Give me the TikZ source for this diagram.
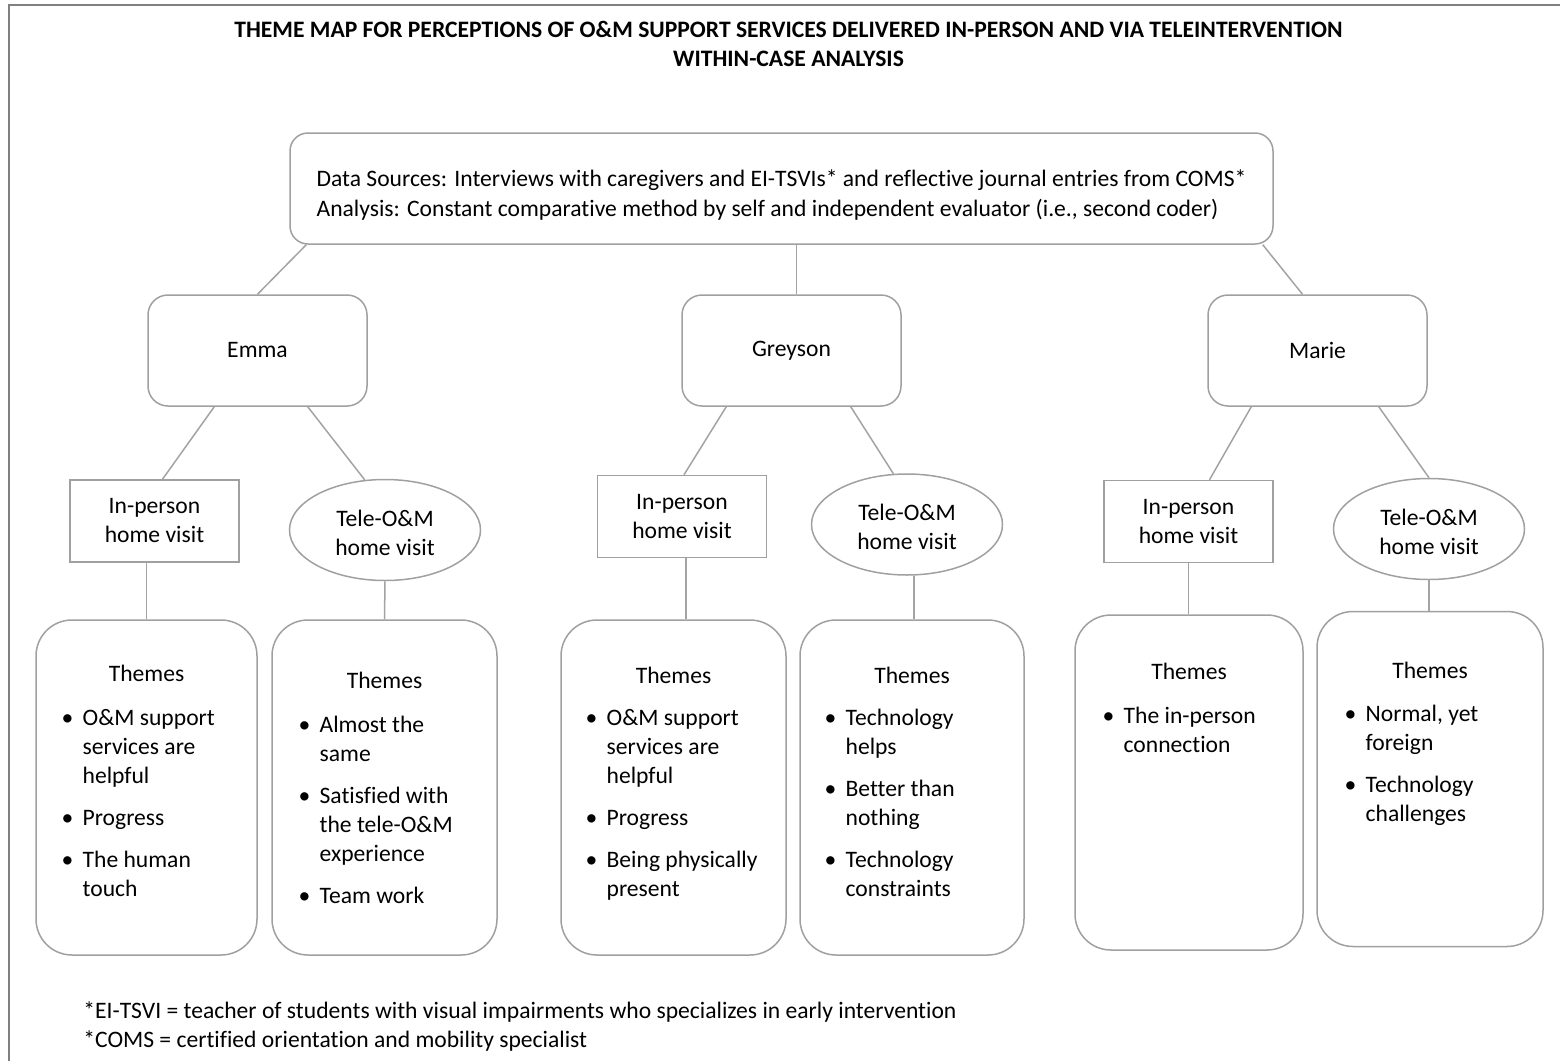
\documentclass[tikz,border=0pt]{standalone}
\usepackage{fontspec}
\setmainfont[Ligatures=NoCommon]{Carlito}
\usepackage{xcolor}
\usepackage{tikz}
\usetikzlibrary{positioning,shapes.geometric,calc}
\definecolor{edgec}{HTML}{A3A3A3}
\definecolor{boxc}{HTML}{A0A0A0}
\definecolor{framec}{HTML}{808080}
\newcommand{\bl}{\makebox[10.5pt][l]{\textbullet}}
\newcommand{\themelist}[1]{\begin{tabular}[t]{@{}l@{}l@{}}#1\end{tabular}}

\begin{document}
\begin{tikzpicture}[x=0.5pt,y=-0.5pt,
  txt/.style={font=\fontsize{11.8}{14.5}\selectfont,inner sep=0pt,align=center},
  ttl/.style={txt,font=\fontsize{11.8}{14.5}\selectfont\bfseries},
  srcbox/.style={txt,draw=boxc,line width=0.75pt,rounded corners=9pt,align=left,
    font=\fontsize{11.8}{15}\selectfont,minimum width=491.5pt,minimum height=55.5pt},
  kid/.style={txt,draw=boxc,line width=0.75pt,rounded corners=10pt,minimum width=109.5pt,minimum height=55.5pt},
  visit/.style={txt,draw=boxc,line width=0.75pt,minimum width=84.5pt,minimum height=41pt},
  tele/.style={txt,ellipse,draw=boxc,line width=0.75pt,minimum width=95.5pt,minimum height=50.5pt},
  themebox/.style={draw=boxc,line width=0.75pt,rounded corners=18pt,minimum height=167.5pt,inner sep=0pt},
  hd/.style={txt},
  lst/.style={txt,align=left},
  link/.style={draw=edgec,line width=0.75pt}]
\useasboundingbox (0,0) rectangle (1560,1061);
% frame
\draw[framec,line width=1.2pt] (9,1075) -- (9,5) -- (1575,5);
% title
\node[ttl] (title) at (788.5,44) {THEME MAP FOR PERCEPTIONS OF O\&M SUPPORT SERVICES DELIVERED IN-PERSON AND VIA TELEINTERVENTION\\WITHIN-CASE ANALYSIS};
% data sources
\node[srcbox] (src) at (781.5,188.5) {\rule{0pt}{15pt}Data Sources: Interviews with caregivers and EI-TSVIs* and reflective journal entries from COMS*\\Analysis: Constant comparative method by self and independent evaluator (i.e., second coder)};
% cases
\node[kid] (emma) at (257.5,350.5) {Emma};
\node[kid] (greyson) at (791.5,350.5) {Greyson};
\node[kid] (marie) at (1317.5,350.5) {Marie};
% visits
\node[visit] (ein) at (154.5,521) {In-person\\home visit};
\node[tele] (etele) at (385,530) {\rule{0pt}{11pt}Tele-O\&M\\home visit};
\node[visit] (gin) at (682,516.5) {In-person\\home visit};
\node[tele] (gtele) at (907,524.5) {\rule{0pt}{11pt}Tele-O\&M\\home visit};
\node[visit] (min) at (1188.5,521.5) {In-person\\home visit};
\node[tele] (mtele) at (1429,529) {\rule{0pt}{11pt}Tele-O\&M\\home visit};
% theme boxes
\node[themebox,minimum width=110.5pt] (e1) at (146.5,787.5) {};
\node[themebox,minimum width=112.5pt] (e2) at (384.5,787.5) {};
\node[themebox,minimum width=112.5pt] (g1) at (673.5,787.5) {};
\node[themebox,minimum width=112pt] (g2) at (912,787.5) {};
\node[themebox,minimum width=114pt] (m1) at (1189,782.5) {};
\node[themebox,minimum width=113pt] (m2) at (1430,779) {};

\node[hd,anchor=base] (e1h) at ([yshift=-31pt]e1.north) {Themes};
\node[lst,anchor=base west] (e1l) at ([xshift=13pt,yshift=-53pt]e1.north west)
  {\themelist{\bl & O\&M support\\ & services are\\ & helpful\\[6.5pt]
   \bl & Progress\\[6.5pt] \bl & The human\\ & touch}};
\node[hd,anchor=base] (e2h) at ([yshift=-34.5pt]e2.north) {Themes};
\node[lst,anchor=base west] (e2l) at ([xshift=13.5pt,yshift=-56.5pt]e2.north west)
  {\themelist{\bl & Almost the\\ & same\\[6.5pt] \bl & Satisfied with\\ & the tele-O\&M\\ & experience\\[6.5pt]
   \bl & Team work}};
\node[hd,anchor=base] (g1h) at ([yshift=-32pt]g1.north) {Themes};
\node[lst,anchor=base west] (g1l) at ([xshift=12.5pt,yshift=-53pt]g1.north west)
  {\themelist{\bl & O\&M support\\ & services are\\ & helpful\\[6.5pt]
   \bl & Progress\\[6.5pt] \bl & Being physically\\ & present}};
\node[hd,anchor=base] (g2h) at ([yshift=-32pt]g2.north) {Themes};
\node[lst,anchor=base west] (g2l) at ([xshift=12.5pt,yshift=-53pt]g2.north west)
  {\themelist{\bl & Technology\\ & helps\\[6.5pt] \bl & Better than\\ & nothing\\[6.5pt]
   \bl & Technology\\ & constraints}};
\node[hd,anchor=base] (m1h) at ([yshift=-32.5pt]m1.north) {Themes};
\node[lst,anchor=base west] (m1l) at ([xshift=14pt,yshift=-54.5pt]m1.north west)
  {\themelist{\bl & The in-person\\ & connection}};
\node[hd,anchor=base] (m2h) at ([yshift=-34pt]m2.north) {Themes};
\node[lst,anchor=base west] (m2l) at ([xshift=14pt,yshift=-55.5pt]m2.north west)
  {\themelist{\bl & Normal, yet\\ & foreign\\[6.5pt] \bl & Technology\\ & challenges}};

% links
\draw[link] ([xshift=8.5pt]src.south west) -- (emma.north);
\draw[link] ([xshift=2.5pt]greyson.north) -- ([xshift=2.5pt]greyson.north |- src.south);
\draw[link] ([xshift=-5.5pt]src.south east) -- ([xshift=-7.5pt]marie.north);
\draw[link] ([xshift=33.5pt]emma.south west) -- ([xshift=4pt]ein.north);
\draw[link] ([xshift=-30pt]emma.south east) -- (etele.112);
\draw[link] (ein.south -| e1.north) -- (e1.north);
\draw[link] (etele.south) -- (e2.north);
\draw[link] ([xshift=22.5pt]greyson.south west) -- ([xshift=1pt]gin.north);
\draw[link] ([xshift=-25.5pt]greyson.south east) -- (gtele.105);
\draw[link] ([xshift=2pt]gin.south) -- ([xshift=2pt]gin.south |- g1.north);
\draw[link] ([xshift=3.5pt]gtele.south) -- ([xshift=3.5pt]gtele.south |- g2.north);
\draw[link] ([xshift=22pt]marie.south west) -- ([xshift=10.5pt]min.north);
\draw[link] ([xshift=-24.5pt]marie.south east) -- (mtele.north);
\draw[link] (min.south) -- (min.south |- m1.north);
\draw[link] (mtele.south) -- (mtele.south |- m2.north);
% notes
\node[txt,anchor=base west] (fn1) at (83,1018) {*EI-TSVI = teacher of students with visual impairments who specializes in early intervention};
\node[txt,anchor=base west] (fn2) at (83,1047) {*COMS = certified orientation and mobility specialist};
\end{tikzpicture}
\end{document}
